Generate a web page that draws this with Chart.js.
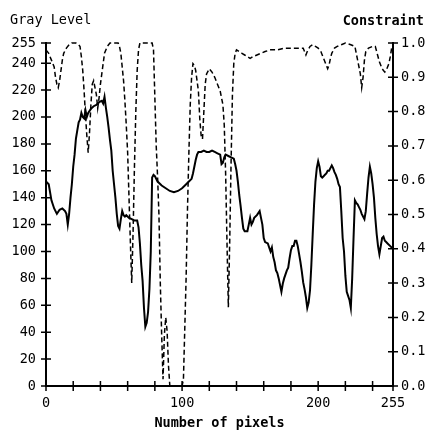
<!DOCTYPE html>
<html>
<head>
<meta charset="utf-8">
<script src="https://cdn.jsdelivr.net/npm/chart.js@4.4.1/dist/chart.umd.min.js"></script>
<style>
  body { margin: 0; background: #fff; }
  canvas { display: block; }
</style>
</head>
<body>
<canvas id="c" width="430" height="433"></canvas>
<script>
// pixel index along the scan line
const grayX = [0,2,4,6,8,10,12,14,15,16,17,18,19,20,21,22,23,24,25,26,27,28,29,30,31,33,35,37,39,41,42,43,44,45,46,47,48,49,50,51,52,53,54,55,56,57,58,59,61,63,65,67,68,69,70,71,72,73,74,75,76,77,78,79,80,82,85,88,91,94,97,100,103,105,107,108,109,110,111,112,114,116,118,120,122,124,126,128,129,130,131,132,134,136,138,139,140,141,142,143,144,145,146,148,149,150,151,152,153,155,157,158,159,160,161,163,164,165,166,167,168,169,170,171,172,173,174,175,176,177,178,179,180,181,182,183,184,185,186,187,188,189,190,191,192,193,194,195,196,197,198,199,200,201,202,203,204,205,206,207,208,209,210,211,212,213,214,215,216,217,218,219,220,221,222,223,224,225,226,227,228,229,230,231,232,233,234,235,236,237,238,239,240,241,242,243,244,245,246,247,248,249,250,251,253,255];
const grayY = [152,150,138,132,128,131,132,130,128,120,128,140,150,163,172,184,190,196,198,203,200,199,205,200,203,206,208,209,211,212,210,215,207,200,192,183,175,160,150,140,128,119,117,124,130,127,126,127,125,124,123,123,118,106,90,78,58,44,47,55,72,100,155,157,156,152,149,147,145,144,145,147,150,152,154,158,163,168,172,174,174,175,174,174,175,174,173,172,165,166,170,172,171,170,169,165,160,152,142,134,125,117,115,115,120,125,120,122,125,127,130,125,120,110,107,106,103,100,103,96,92,86,84,80,75,70,76,80,83,86,88,95,101,104,104,108,108,104,98,92,85,77,72,66,58,62,71,90,113,135,152,162,167,163,156,155,156,157,158,160,160,162,164,162,159,157,154,150,148,130,110,100,82,70,67,64,58,80,110,138,136,135,133,131,128,126,124,130,143,155,163,158,150,140,125,113,104,98,104,110,111,108,107,106,104,102];

const consX = [0,2,4,6,7,8,9,10,11,12,13,15,17,19,22,24,25,26,27,28,29,30,31,32,33,34,35,36,37,38,39,40,41,42,43,45,47,53,54,55,56,57,58,59,60,61,62,63,64,65,66,67,68,69,78,79,80,81,82,83,84,85,86,87,88,89,90,91,100,101,102,103,104,105,106,107,108,109,110,111,112,113,114,115,116,117,118,120,122,124,126,128,130,131,132,133,134,135,136,137,138,139,140,142,144,146,148,150,152,155,158,161,165,170,175,180,185,189,190,191,192,194,196,198,200,202,204,206,207,208,209,210,212,214,217,220,224,227,228,229,230,231,232,233,234,235,237,240,242,243,244,245,246,247,248,249,250,251,252,253,254,255];
const consY = [0.98,0.97,0.95,0.93,0.90,0.88,0.87,0.89,0.92,0.95,0.97,0.985,0.995,1.0,1.0,0.995,0.99,0.96,0.92,0.86,0.79,0.73,0.68,0.74,0.82,0.88,0.89,0.87,0.85,0.81,0.84,0.88,0.91,0.94,0.97,0.99,1.0,1.0,0.99,0.97,0.93,0.89,0.83,0.76,0.68,0.55,0.42,0.30,0.45,0.64,0.80,0.92,0.98,1.0,1.0,0.98,0.84,0.70,0.61,0.50,0.30,0.15,0.02,0.15,0.20,0.16,0.06,0,0,0.02,0.17,0.32,0.52,0.68,0.82,0.90,0.94,0.935,0.92,0.89,0.86,0.78,0.73,0.72,0.80,0.88,0.91,0.925,0.915,0.90,0.88,0.86,0.82,0.76,0.62,0.42,0.23,0.42,0.65,0.85,0.94,0.97,0.98,0.975,0.97,0.965,0.96,0.955,0.96,0.965,0.97,0.975,0.98,0.98,0.985,0.985,0.985,0.985,0.975,0.965,0.975,0.99,0.995,0.99,0.985,0.975,0.955,0.935,0.925,0.935,0.955,0.97,0.985,0.99,0.995,1.0,0.995,0.99,0.97,0.95,0.93,0.91,0.87,0.90,0.95,0.975,0.985,0.99,0.99,0.975,0.96,0.945,0.935,0.925,0.92,0.915,0.92,0.93,0.94,0.96,0.985,0.99];

const xTicks = [0,20,40,60,80,100,120,140,160,180,200,220,240,255];
const xLabels = [0,100,200,255];
const grayTicks = [0,20,40,60,80,100,120,140,160,180,200,220,240,255];
const consTicks = [0,0.1,0.2,0.3,0.4,0.5,0.6,0.7,0.8,0.9,1.0];

const FONT = {family: '"DejaVu Sans Mono", monospace', size: 13.5};
const BOLD = {family: FONT.family, size: 13.5, weight: 'bold'};

const setTicks = list => s => { s.ticks = list.map(v => ({value: v})) };

// little crossing tick marks + the two header labels
const axisMarks = {
  id: 'axisMarks',
  afterDraw: c => {
    const ctx = c.ctx, a = c.chartArea;
    ctx.save();
    ctx.strokeStyle = '#000';
    ctx.lineWidth = 1.5;
    ctx.beginPath();
    c.scales.x.ticks.forEach(t => {
      const p = c.scales.x.getPixelForValue(t.value);
      ctx.moveTo(p, a.bottom - 5); ctx.lineTo(p, a.bottom + 5);
    });
    c.scales.y.ticks.forEach(t => {
      const p = c.scales.y.getPixelForValue(t.value);
      ctx.moveTo(a.left - 5, p); ctx.lineTo(a.left + 5, p);
    });
    c.scales.y2.ticks.forEach(t => {
      const p = c.scales.y2.getPixelForValue(t.value);
      ctx.moveTo(a.right - 5, p); ctx.lineTo(a.right + 5, p);
    });
    ctx.stroke();
    ctx.fillStyle = '#000';
    ctx.font = `${FONT.size}px ${FONT.family}`;
    ctx.textBaseline = 'middle';
    ctx.textAlign = 'left';
    ctx.fillText('Gray Level', 10, 20);
    ctx.font = `bold ${FONT.size}px ${FONT.family}`;
    ctx.textAlign = 'right';
    ctx.fillText('Constraint', 424, 21);
    ctx.restore();
  }
};

new Chart(document.getElementById('c'), {
  type: 'line',
  data: {
    datasets: [
      {
        label: 'Gray Level',
        data: grayX.map((x, i) => ({x, y: grayY[i]})),
        yAxisID: 'y',
        borderColor: '#000',
        borderWidth: 2,
        pointRadius: 0,
        tension: 0,
        clip: 4,
      },
      {
        label: 'Constraint',
        data: consX.map((x, i) => ({x, y: consY[i]})),
        yAxisID: 'y2',
        borderColor: '#000',
        borderWidth: 1.5,
        borderDash: [5, 3],
        pointRadius: 0,
        tension: 0,
        clip: 4,
      },
    ]
  },
  options: {
    responsive: false,
    devicePixelRatio: 1,
    animation: false,
    layout: {padding: {top: 43, left: 0, right: 0, bottom: 0}},
    plugins: {legend: {display: false}, tooltip: {enabled: false}},
    scales: {
      x: {
        type: 'linear', min: 0, max: 255,
        afterBuildTicks: setTicks(xTicks),
        afterFit: s => { s.height = 47 },
        grid: {display: false, drawTicks: false},
        border: {display: true, color: '#000', width: 2},
        ticks: {
          autoSkip: false, maxRotation: 0, padding: 9, color: '#000', font: FONT,
          callback: v => xLabels.includes(v) ? String(v) : '',
        },
        title: {display: true, text: 'Number of pixels', color: '#000', font: BOLD, padding: {top: 0, bottom: 1}},
      },
      y: {
        type: 'linear', position: 'left', min: 0, max: 255,
        afterBuildTicks: setTicks(grayTicks),
        afterFit: s => { s.width = 46 },
        grid: {display: false, drawTicks: false},
        border: {display: true, color: '#000', width: 2},
        ticks: {autoSkip: false, padding: 10, color: '#000', font: FONT},
      },
      y2: {
        type: 'linear', position: 'right', min: 0, max: 1,
        afterBuildTicks: setTicks(consTicks),
        afterFit: s => { s.width = 37 },
        grid: {display: false, drawTicks: false},
        border: {display: true, color: '#000', width: 2},
        ticks: {autoSkip: false, padding: 8, color: '#000', font: FONT, callback: v => v.toFixed(1)},
      },
    }
  },
  plugins: [axisMarks]
});
</script>
</body>
</html>
